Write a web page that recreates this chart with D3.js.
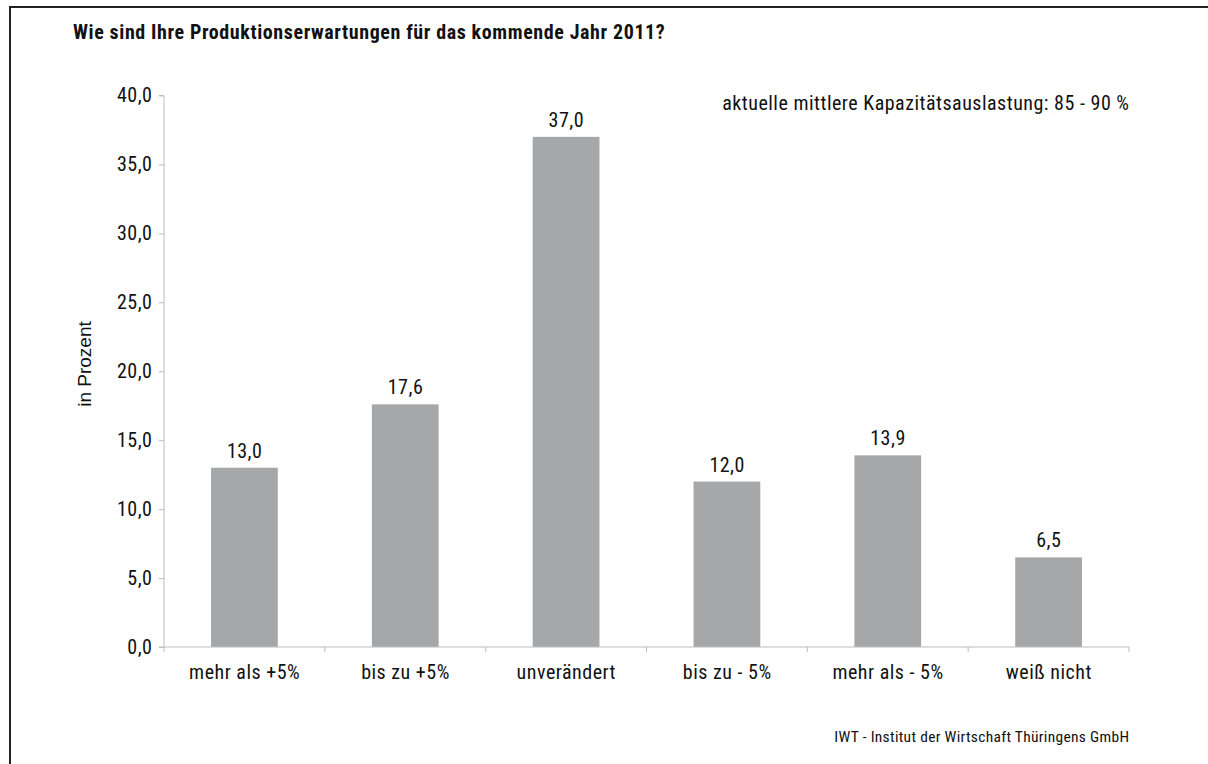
<!DOCTYPE html>
<html>
<head>
<meta charset="utf-8">
<script src="https://cdn.jsdelivr.net/npm/d3@7"></script>
<style>
  body { margin: 0; background: #fff; overflow: hidden; }
  svg { display: block; }
  svg text { font-family: "Roboto Condensed", "Roboto", sans-serif; fill: #111; }
</style>
</head>
<body>
<svg id="chart" width="1208" height="764"></svg>
<script>
// Data
const CATEGORIES = ['mehr als +5%', 'bis zu +5%', 'unverändert', 'bis zu - 5%', 'mehr als - 5%', 'weiß nicht'];
const VALUES = [13.0, 17.6, 37.0, 12.0, 13.9, 6.5];
const Y_TICKS = [0, 5, 10, 15, 20, 25, 30, 35, 40];

const TITLE = 'Wie sind Ihre Produktionserwartungen für das kommende Jahr 2011?';
const NOTE = 'aktuelle mittlere Kapazitätsauslastung: 85 - 90 %';
const SOURCE = 'IWT - Institut der Wirtschaft Thüringens GmbH';

// Layout
const PLOT_LEFT = 164;
const PLOT_RIGHT = 1129;
const PLOT_TOP = 95.5;
const PLOT_BOTTOM = 647;
const AXIS_COLOR = '#bdbdbd';
const BAR_COLOR = '#a6a7a9';
const FONT_SIZE = 20;
const SPACING = 0.5;

const fmt = function(v) { return v.toFixed(1).replace('.', ','); };

let svg = d3.select('#chart');

// Outer frame: only its left and top edges are inside the picture
svg.append('path')
    .attr('d', 'M10,764V7H1208')
    .attr('fill', 'none')
    .attr('stroke', '#222')
    .attr('stroke-width', 2);

svg.append('text')
    .attr('x', 73).attr('y', 39)
    .attr('font-size', FONT_SIZE)
    .attr('font-weight', 'bold')
    .attr('letter-spacing', 0.6)
    .attr('fill', '#000')
    .text(TITLE);

let xScale = d3.scaleBand()
    .domain(CATEGORIES)
    .range([PLOT_LEFT, PLOT_RIGHT])
    .paddingInner(0.585)
    .paddingOuter(0.2925);

let yScale = d3.scaleLinear()
    .domain([0, 40])
    .range([PLOT_BOTTOM, PLOT_TOP]);

// Bars
svg.append('g').selectAll('rect')
    .data(VALUES)
    .join('rect')
    .attr('x', function(d, i) { return xScale(CATEGORIES[i]); })
    .attr('y', function(d) { return yScale(d); })
    .attr('width', xScale.bandwidth())
    .attr('height', function(d) { return PLOT_BOTTOM - yScale(d); })
    .attr('fill', BAR_COLOR);

// Value labels
svg.append('g').selectAll('text')
    .data(VALUES)
    .join('text')
    .attr('x', function(d, i) { return xScale(CATEGORIES[i]) + xScale.bandwidth() / 2 + SPACING / 2; })
    .attr('y', function(d) { return yScale(d) - 10; })
    .attr('text-anchor', 'middle')
    .attr('font-size', FONT_SIZE)
    .attr('letter-spacing', SPACING)
    .text(fmt);

// Y axis
let yAxis = svg.append('g')
    .attr('transform', 'translate(' + PLOT_LEFT + ',0)')
    .call(d3.axisLeft(yScale).tickValues(Y_TICKS).tickFormat(fmt).tickSize(5).tickPadding(7));
yAxis.selectAll('line, path').attr('stroke', AXIS_COLOR);
yAxis.select('path').attr('d', 'M-5,' + PLOT_TOP + 'H0V' + PLOT_BOTTOM + 'H-5');
yAxis.selectAll('text')
    .attr('font-size', FONT_SIZE)
    .attr('letter-spacing', SPACING)
    .attr('dx', SPACING)
    .attr('fill', '#111')
    .attr('font-family', null);

// X axis: ticks sit between the categories
let xAxis = svg.append('g')
    .attr('transform', 'translate(0,' + PLOT_BOTTOM + ')');
xAxis.append('line')
    .attr('x1', PLOT_LEFT).attr('x2', PLOT_RIGHT)
    .attr('stroke', AXIS_COLOR);
let step = xScale.step();
let bounds = d3.range(CATEGORIES.length + 1).map(function(i) { return PLOT_LEFT + i * step; });
xAxis.selectAll('line.tick')
    .data(bounds)
    .join('line')
    .attr('class', 'tick')
    .attr('x1', function(d) { return d; }).attr('x2', function(d) { return d; })
    .attr('y1', 0).attr('y2', 5)
    .attr('stroke', AXIS_COLOR);
xAxis.selectAll('text')
    .data(CATEGORIES)
    .join('text')
    .attr('x', function(d) { return xScale(d) + xScale.bandwidth() / 2 + SPACING / 2; })
    .attr('y', 32)
    .attr('text-anchor', 'middle')
    .attr('font-size', FONT_SIZE)
    .attr('letter-spacing', SPACING)
    .text(function(d) { return d; });

// Y axis title (a plain, non-condensed face in the original)
svg.append('text')
    .attr('transform', 'translate(91,364) rotate(-90)')
    .attr('text-anchor', 'middle')
    .attr('font-size', 19)
    .style('font-family', '"Liberation Sans", Arial, sans-serif')
    .text('in Prozent');

svg.append('text')
    .attr('x', PLOT_RIGHT + SPACING).attr('y', 110)
    .attr('text-anchor', 'end')
    .attr('font-size', FONT_SIZE)
    .attr('letter-spacing', SPACING)
    .text(NOTE);

svg.append('text')
    .attr('x', PLOT_RIGHT + 0.3).attr('y', 742)
    .attr('text-anchor', 'end')
    .attr('font-size', 15.5)
    .attr('letter-spacing', 0.3)
    .text(SOURCE);
</script>
</body>
</html>
